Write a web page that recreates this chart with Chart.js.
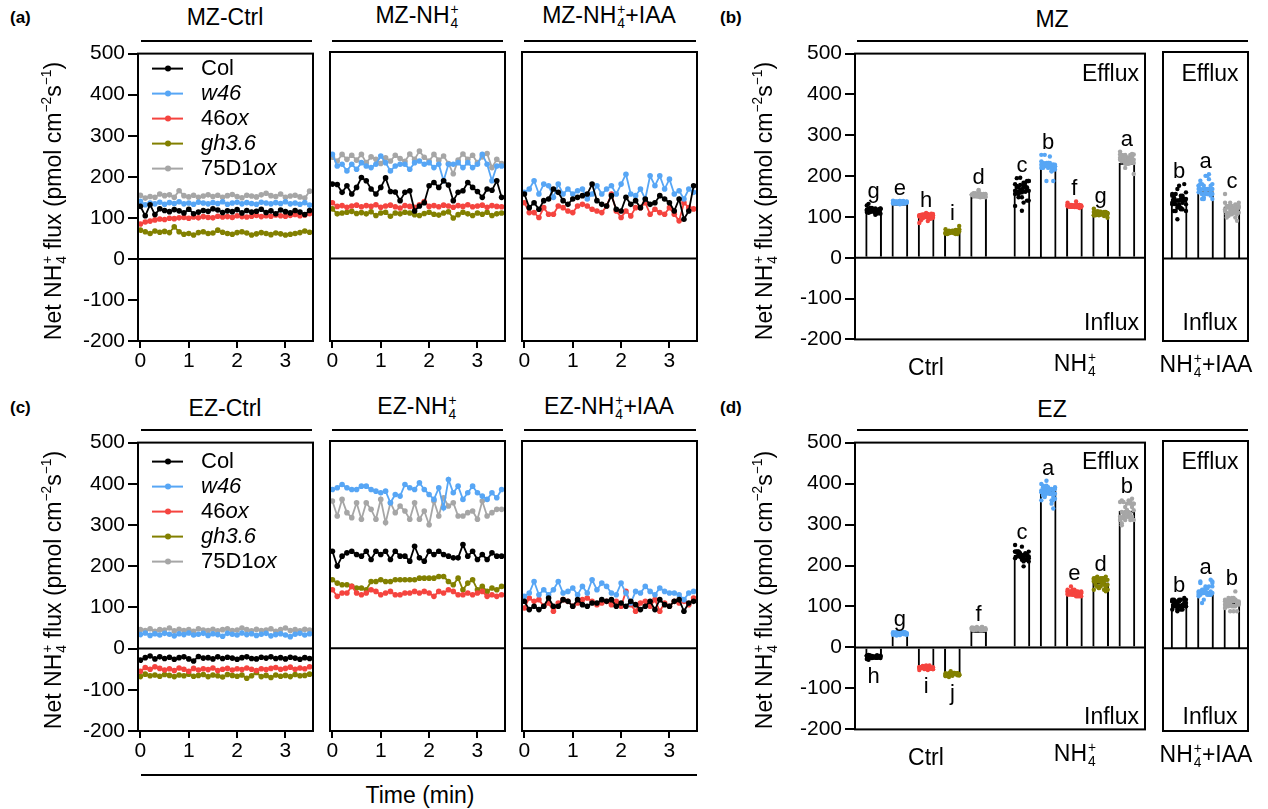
<!DOCTYPE html>
<html>
<head>
<meta charset="utf-8">
<script src="https://cdn.jsdelivr.net/npm/chart.js@4"></script>
<style>
body{margin:0;background:#fff;font-family:'Liberation Sans',Arial,sans-serif;color:#000}
#fig{position:relative;width:1268px;height:809px;overflow:hidden;background:#fff}
canvas{position:absolute}
.t{position:absolute;white-space:nowrap;transform:translate(-50%,-50%);font-size:23px;line-height:1;z-index:2}
.r{transform:translate(-100%,-50%)}
.yt{transform:translate(-50%,-50%) rotate(-90deg)}
.lab{position:absolute;font-weight:bold;font-size:17px;line-height:1;z-index:2}
.hl{position:absolute;height:2px;background:#000}
.ss{display:inline-flex;flex-direction:column;vertical-align:middle;font-size:0.6em;line-height:1;margin-left:1px}
sup{font-size:0.6em;vertical-align:0.7em;line-height:0}
</style>
</head>
<body>
<div id="fig">
  <div class="lab" style="left:10px;top:9px">(a)</div>
  <div class="lab" style="left:720px;top:9px">(b)</div>
  <div class="lab" style="left:10px;top:399px">(c)</div>
  <div class="lab" style="left:720px;top:399px">(d)</div>

  <div class="t" style="left:225px;top:17px">MZ-Ctrl</div>
  <div class="t" style="left:417px;top:17px">MZ-NH<span class="ss"><span>+</span><span>4</span></span></div>
  <div class="t" style="left:609px;top:17px">MZ-NH<span class="ss"><span>+</span><span>4</span></span>+IAA</div>
  <div class="t" style="left:1052px;top:19px">MZ</div>
  <div class="t" style="left:225px;top:408px">EZ-Ctrl</div>
  <div class="t" style="left:417px;top:408px">EZ-NH<span class="ss"><span>+</span><span>4</span></span></div>
  <div class="t" style="left:609px;top:408px">EZ-NH<span class="ss"><span>+</span><span>4</span></span>+IAA</div>
  <div class="t" style="left:1052px;top:409px">EZ</div>

  <div class="hl" style="left:141px;top:40px;width:171px"></div>
  <div class="hl" style="left:332px;top:40px;width:171px"></div>
  <div class="hl" style="left:524px;top:40px;width:172px"></div>
  <div class="hl" style="left:857px;top:40px;width:391px"></div>
  <div class="hl" style="left:141px;top:429px;width:171px"></div>
  <div class="hl" style="left:332px;top:429px;width:171px"></div>
  <div class="hl" style="left:524px;top:429px;width:172px"></div>
  <div class="hl" style="left:857px;top:429px;width:391px"></div>
  <div class="hl" style="left:141px;top:774px;width:556px"></div>
  <div class="t" style="left:420px;top:795px">Time (min)</div>

  <div class="t yt" style="left:55px;top:201px">Net NH<span class="ss"><span>+</span><span>4</span></span> flux (pmol cm<sup>−2</sup>s<sup>−1</sup>)</div>
  <div class="t yt" style="left:55px;top:590px">Net NH<span class="ss"><span>+</span><span>4</span></span> flux (pmol cm<sup>−2</sup>s<sup>−1</sup>)</div>
  <div class="t yt" style="left:766px;top:201px">Net NH<span class="ss"><span>+</span><span>4</span></span> flux (pmol cm<sup>−2</sup>s<sup>−1</sup>)</div>
  <div class="t yt" style="left:766px;top:590px">Net NH<span class="ss"><span>+</span><span>4</span></span> flux (pmol cm<sup>−2</sup>s<sup>−1</sup>)</div>

  <div class="t r" style="left:1139px;top:73px">Efflux</div>
  <div class="t r" style="left:1139px;top:322px">Influx</div>
  <div class="t" style="left:1210px;top:73px">Efflux</div>
  <div class="t" style="left:1210px;top:322px">Influx</div>
  <div class="t r" style="left:1139px;top:461px">Efflux</div>
  <div class="t r" style="left:1139px;top:716px">Influx</div>
  <div class="t" style="left:1210px;top:461px">Efflux</div>
  <div class="t" style="left:1210px;top:716px">Influx</div>

  <div class="t" style="left:926px;top:367px">Ctrl</div>
  <div class="t" style="left:1075px;top:365px">NH<span class="ss"><span>+</span><span>4</span></span></div>
  <div class="t" style="left:1206px;top:366px">NH<span class="ss"><span>+</span><span>4</span></span>+IAA</div>
  <div class="t" style="left:926px;top:757px">Ctrl</div>
  <div class="t" style="left:1075px;top:755px">NH<span class="ss"><span>+</span><span>4</span></span></div>
  <div class="t" style="left:1206px;top:756px">NH<span class="ss"><span>+</span><span>4</span></span>+IAA</div>
</div>
<script>
// time points (min)
const time = [0,0.1,0.2,0.3,0.4,0.5,0.6,0.7,0.8,0.9,1,1.1,1.2,1.3,1.4,1.5,1.6,1.7,1.8,1.9,2,2.1,2.2,2.3,2.4,2.5,2.6,2.7,2.8,2.9,3,3.1,3.2,3.3,3.4,3.5];
const xTicks = [0, 1, 2, 3];
const yTicks = [-200, -100, 0, 100, 200, 300, 400, 500];
const colors = ['#000000', '#57a6f5', '#f5443f', '#828000', '#a6a6a6'];
const legendParts = [[['Col', 0]], [['w46', 1]], [['46', 0], ['ox', 1]], [['gh3.6', 1]], [['75D1', 0], ['ox', 1]]];

// MZ - Ctrl
const mzCtrlCol = [128,105,132,108,122,118,115,120,117,112,121,110,114,118,116,122,119,113,117,115,120,112,118,114,116,121,113,117,110,119,115,112,118,114,108,118];
const mzCtrlW46 = [140,132,136,134,138,133,137,135,139,134,136,133,138,136,134,137,135,139,133,136,138,134,137,135,133,138,136,134,137,135,139,134,136,133,137,131];
const mzCtrl46ox = [85,90,92,95,97,96,99,98,100,101,99,102,100,103,101,100,104,102,103,101,105,103,102,104,106,103,105,104,107,105,104,106,108,105,107,110];
const mzCtrlGh36 = [70,66,62,68,65,67,64,78,66,60,62,58,64,66,62,63,70,65,62,60,64,66,63,58,61,64,62,59,63,61,58,60,62,64,68,65];
const mzCtrl75ox = [155,148,152,150,158,154,156,150,166,154,151,155,150,153,156,152,155,150,154,157,152,149,155,153,151,156,160,154,152,158,150,153,155,151,148,165];
// MZ - NH4+
const mzNh4Col = [180,179,160,176,156,172,196,188,168,156,172,195,162,161,140,160,164,115,127,135,176,184,172,188,178,140,160,164,184,172,162,148,168,165,188,148];
const mzNh4W46 = [252,224,228,212,228,216,232,224,220,228,248,232,212,224,228,228,216,232,236,228,232,220,228,188,228,228,232,220,232,220,228,252,228,188,224,224];
const mzNh446ox = [135,126,128,124,127,129,125,128,126,130,124,127,129,125,122,128,126,124,130,138,126,128,125,129,127,124,128,126,130,125,127,129,124,128,126,125];
const mzNh4Gh36 = [120,108,110,112,114,109,111,108,113,104,110,112,102,110,108,112,110,106,104,109,112,107,105,110,113,98,106,112,108,104,110,107,112,104,108,110];
const mzNh475ox = [245,236,252,240,250,238,252,232,246,240,230,244,236,250,242,235,253,240,260,245,236,252,238,248,230,205,238,253,240,250,232,246,254,220,240,230];
// MZ - NH4+ + IAA
const mzIaaCol = [156,123,135,119,140,144,168,160,140,131,144,148,152,156,180,140,131,127,152,119,115,148,131,140,123,144,131,135,152,144,135,115,144,95,115,176];
const mzIaaW46 = [160,168,188,156,180,176,148,180,156,168,156,164,168,144,156,176,156,168,176,156,180,204,156,152,168,144,200,176,200,168,192,156,164,144,168,160];
const mzIaa46ox = [135,111,111,99,123,107,107,127,123,115,111,127,131,127,119,115,111,127,156,115,99,115,103,123,123,135,107,119,111,107,123,107,91,135,123,120];
// EZ - Ctrl
const ezCtrlCol = [-28,-22,-18,-25,-20,-24,-21,-26,-22,-20,-25,-30,-19,-23,-22,-25,-20,-24,-21,-23,-26,-22,-20,-24,-25,-21,-23,-20,-24,-22,-25,-21,-23,-26,-22,-24];
const ezCtrlW46 = [34,38,32,36,33,37,35,31,36,34,38,33,35,37,32,36,34,30,37,35,33,38,34,36,32,35,37,31,34,36,33,29,35,37,33,36];
const ezCtrl46ox = [-55,-46,-50,-44,-48,-52,-49,-53,-47,-50,-55,-48,-52,-49,-51,-47,-53,-50,-48,-52,-49,-51,-47,-50,-53,-49,-51,-48,-46,-50,-48,-45,-50,-47,-49,-44];
const ezCtrlGh36 = [-68,-62,-66,-64,-67,-63,-65,-68,-64,-66,-62,-67,-65,-63,-68,-64,-66,-69,-63,-65,-67,-64,-72,-66,-58,-68,-65,-70,-64,-67,-65,-68,-63,-66,-65,-62];
const ezCtrl75ox = [46,44,48,42,46,45,50,43,47,44,46,42,48,45,44,47,43,46,48,44,45,50,46,43,47,44,45,48,42,46,50,44,46,43,47,45];
// EZ - NH4+
const ezNh4Col = [234,198,222,230,234,226,222,234,214,234,226,234,214,234,222,222,210,246,218,210,234,226,234,226,222,218,218,250,222,234,214,226,214,230,222,222];
const ezNh4W46 = [383,387,395,387,383,383,391,391,383,379,375,379,351,371,367,395,387,383,399,383,371,359,387,339,407,375,391,359,375,391,375,367,359,375,363,383];
const ezNh446ox = [141,125,133,133,149,133,129,133,141,137,129,133,137,129,129,133,133,137,133,137,133,125,137,133,141,137,129,129,133,129,133,137,125,129,125,129];
const ezNh4Gh36 = [165,157,153,153,149,145,145,141,161,161,165,161,161,165,165,165,165,165,169,169,169,169,173,173,161,153,169,141,157,165,141,149,137,145,141,149];
const ezNh475ox = [355,319,359,327,315,351,311,351,335,311,359,303,351,327,343,331,311,351,311,331,298,355,319,363,343,351,319,319,327,331,311,355,319,327,335,335];
// EZ - NH4+ + IAA
const ezIaaCol = [113,93,101,93,101,121,101,101,117,113,101,117,105,101,109,109,117,113,117,101,109,101,113,105,93,101,113,93,117,105,101,113,117,89,109,113];
const ezIaaW46 = [125,133,161,129,141,129,141,161,133,137,145,129,149,133,165,141,157,149,133,129,157,133,109,137,133,149,137,129,145,137,133,133,129,117,133,137];
const ezIaa46ox = [97,121,113,117,101,109,89,109,117,113,101,109,117,121,113,105,109,113,105,113,101,137,105,89,109,113,101,117,89,109,101,113,109,113,105,121];

// bar means (b) and (d)
const mzBarMain = [120, 132, 102, 62, 150, 165, 225, 130, 113, 232];
const mzBarIaa = [145, 162, 125];
const ezBarMain = [-25, 33, -53, -67, 40, 225, 382, 135, 158, 333];
const ezBarIaa = [107, 135, 110];
const mzLetters = ['g', 'e', 'h', 'i', 'd', 'c', 'b', 'f', 'g', 'a'];
const mzIaaLetters = ['b', 'a', 'c'];
const ezLetters = ['h', 'g', 'i', 'j', 'f', 'c', 'a', 'e', 'd', 'b'];
const ezIaaLetters = ['b', 'a', 'b'];
const barPosMain = [0, 1, 2, 3, 4, 5.65, 6.65, 7.65, 8.65, 9.65];
const barPosIaa = [0, 1, 2];

Chart.defaults.font.family = "'Liberation Sans', Arial, sans-serif";
Chart.defaults.color = '#000';
const FONT = "'Liberation Sans', Arial, sans-serif";

function addCanvas(x, y, w, h) {
    const c = document.createElement('canvas');
    c.width = w; c.height = h;
    c.style.left = x + 'px'; c.style.top = y + 'px';
    document.getElementById('fig').appendChild(c);
    return c.getContext('2d');
}

// box round the plot area + zero line
const framePlugin = {
    id: 'frame',
    afterDatasetsDraw(chart) {
        const { ctx, chartArea: a, scales: { y } } = chart;
        const z = y.getPixelForValue(0);
        ctx.save();
        ctx.strokeStyle = '#000'; ctx.lineWidth = 2;
        ctx.beginPath(); ctx.moveTo(a.left, z); ctx.lineTo(a.right, z); ctx.stroke();
        ctx.strokeRect(a.left, a.top, a.right - a.left, a.bottom - a.top);
        ctx.restore();
    }
};

function keyPlugin(dy) {
    return {
        id: 'seriesKey',
        afterDatasetsDraw(chart) {
            const { ctx, chartArea: a } = chart;
            ctx.save();
            legendParts.forEach((parts, i) => {
                const y = a.top + dy + i * 25;
                ctx.strokeStyle = colors[i]; ctx.fillStyle = colors[i]; ctx.lineWidth = 2;
                ctx.beginPath(); ctx.moveTo(a.left + 14, y); ctx.lineTo(a.left + 45, y); ctx.stroke();
                ctx.beginPath(); ctx.arc(a.left + 30, y, 3, 0, Math.PI * 2); ctx.fill();
                let x = a.left + 63;
                ctx.fillStyle = '#000'; ctx.textBaseline = 'middle'; ctx.textAlign = 'left';
                parts.forEach(([txt, it]) => {
                    ctx.font = (it ? 'italic ' : '') + '22px ' + FONT;
                    ctx.fillText(txt, x, y);
                    x += ctx.measureText(txt).width;
                });
            });
            ctx.restore();
        }
    };
}

function letterPlugin(letters, pos, means, groups) {
    return {
        id: 'sigLetters',
        afterDatasetsDraw(chart) {
            const { ctx, scales: { x, y } } = chart;
            ctx.save();
            ctx.fillStyle = '#000'; ctx.textAlign = 'center';
            ctx.font = '22px ' + FONT;
            letters.forEach((L, i) => {
                const px = x.getPixelForValue(pos[i]);
                if (means[i] >= 0) {
                    ctx.textBaseline = 'alphabetic';
                    ctx.fillText(L, px, y.getPixelForValue(Math.max(...groups[i])) - 6);
                } else {
                    ctx.textBaseline = 'top';
                    ctx.fillText(L, px, y.getPixelForValue(Math.min(...groups[i])) + 6);
                }
            });
            ctx.restore();
        }
    };
}

function yScale(show) {
    const s = {
        type: 'linear', min: -200, max: 500, display: show,
        afterBuildTicks: sc => { sc.ticks = yTicks.map(v => ({ value: v })); },
        border: { display: false },
        grid: { drawOnChartArea: false, color: '#000', lineWidth: 2, tickLength: 10, tickColor: '#000' },
        ticks: { color: '#000', font: { size: 21 }, padding: 3 }
    };
    if (show) s.afterFit = sc => { sc.width = 80; };
    return s;
}

const PT = 14;

function lineChart(l, r, t, b, series, withY, legendDy) {
    const yw = withY ? 80 : 8, pr = 8, xh = 34;
    const ctx = addCanvas(l - yw, t - PT, r - l + yw + pr, b - t + PT + xh);
    const plugins = [framePlugin];
    if (legendDy) plugins.push(keyPlugin(legendDy));
    new Chart(ctx, {
        type: 'line',
        data: {
            datasets: series.map((s, i) => ({
                data: time.map((tm, j) => ({ x: tm, y: s[j] })),
                borderColor: colors[i],
                backgroundColor: colors[i],
                pointBackgroundColor: colors[i],
                borderWidth: 1.8,
                pointRadius: 2.8,
                pointBorderWidth: 0,
                tension: 0
            }))
        },
        options: {
            responsive: false, animation: false, events: [], devicePixelRatio: 1,
            layout: { padding: { left: withY ? 0 : 8, top: PT, right: pr, bottom: 0 } },
            plugins: { legend: { display: false }, tooltip: { enabled: false } },
            scales: {
                x: {
                    type: 'linear', min: -0.05, max: 3.57,
                    afterBuildTicks: sc => { sc.ticks = xTicks.map(v => ({ value: v })); },
                    afterFit: sc => { sc.height = xh; },
                    border: { display: false },
                    grid: { drawOnChartArea: false, color: '#000', lineWidth: 2, tickLength: 7, tickColor: '#000' },
                    ticks: { color: '#000', font: { size: 21 }, padding: 1, maxRotation: 0 }
                },
                y: yScale(withY)
            }
        },
        plugins: plugins
    });
}

const jit = j => (((j * 5) % 9) - 4) * 0.065;

function barChart(l, r, t, b, pos, means, groups, dotColors, letters, withY, xmin, xmax) {
    const yw = withY ? 80 : 8, pr = 8, pb = 14;
    const ctx = addCanvas(l - yw, t - PT, r - l + yw + pr, b - t + PT + pb);
    const datasets = groups.map((g, i) => ({
        type: 'scatter',
        data: g.map((v, j) => ({ x: pos[i] + jit(j), y: v })),
        backgroundColor: dotColors[i],
        pointRadius: 2.2,
        pointBorderWidth: 0,
        order: 0
    }));
    datasets.push({
        type: 'bar',
        data: pos.map((p, i) => ({ x: p, y: means[i] })),
        backgroundColor: '#fff',
        borderColor: '#000',
        borderWidth: 2,
        barThickness: 16,
        order: 1
    });
    new Chart(ctx, {
        type: 'bar',
        data: { datasets },
        options: {
            responsive: false, animation: false, events: [], devicePixelRatio: 1,
            layout: { padding: { left: withY ? 0 : 8, top: PT, right: pr, bottom: pb } },
            plugins: { legend: { display: false }, tooltip: { enabled: false } },
            scales: {
                x: { type: 'linear', min: xmin, max: xmax, offset: false, display: false },
                y: yScale(withY)
            }
        },
        plugins: [framePlugin, letterPlugin(letters, pos, means, groups)]
    });
}

// panel (a)
lineChart(138, 313, 52, 341, [mzCtrlCol, mzCtrlW46, mzCtrl46ox, mzCtrlGh36, mzCtrl75ox], true, 15);
lineChart(330, 505, 52, 341, [mzNh4Col, mzNh4W46, mzNh446ox, mzNh4Gh36, mzNh475ox], false, 0);
lineChart(522, 697, 52, 341, [mzIaaCol, mzIaaW46, mzIaa46ox], false, 0);
// panel (c)
lineChart(138, 313, 441, 731, [ezCtrlCol, ezCtrlW46, ezCtrl46ox, ezCtrlGh36, ezCtrl75ox], true, 19);
lineChart(330, 505, 441, 731, [ezNh4Col, ezNh4W46, ezNh446ox, ezNh4Gh36, ezNh475ox], false, 0);
lineChart(522, 697, 441, 731, [ezIaaCol, ezIaaW46, ezIaa46ox], false, 0);

const mainColors = colors.concat(colors);
const iaaColors = [colors[0], colors[1], colors[4]];
// panel (b)
barChart(855, 1145, 52, 341, barPosMain, mzBarMain,
    [mzCtrlCol, mzCtrlW46, mzCtrl46ox, mzCtrlGh36, mzCtrl75ox, mzNh4Col, mzNh4W46, mzNh446ox, mzNh4Gh36, mzNh475ox],
    mainColors, mzLetters, true, -0.71, 10.34);
barChart(1163, 1248, 52, 341, barPosIaa, mzBarIaa, [mzIaaCol, mzIaaW46, mzIaa46ox],
    iaaColors, mzIaaLetters, false, -0.61, 2.61);
// panel (d)
barChart(855, 1145, 441, 731, barPosMain, ezBarMain,
    [ezCtrlCol, ezCtrlW46, ezCtrl46ox, ezCtrlGh36, ezCtrl75ox, ezNh4Col, ezNh4W46, ezNh446ox, ezNh4Gh36, ezNh475ox],
    mainColors, ezLetters, true, -0.71, 10.34);
barChart(1163, 1248, 441, 731, barPosIaa, ezBarIaa, [ezIaaCol, ezIaaW46, ezIaa46ox],
    iaaColors, ezIaaLetters, false, -0.61, 2.61);
</script>
</body>
</html>
